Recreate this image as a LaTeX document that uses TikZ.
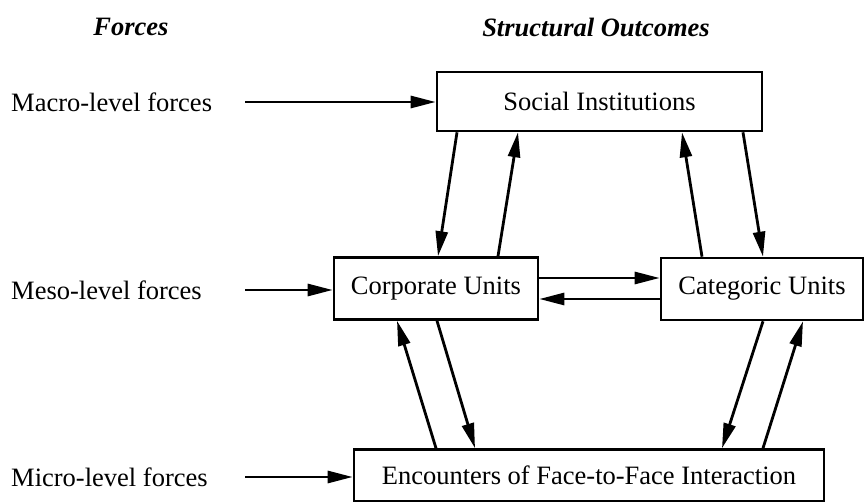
\documentclass[tikz,border=0pt]{standalone}
\usepackage{fontspec}
\setmainfont{Liberation Serif}
\usetikzlibrary{arrows.meta,calc}
\tikzset{
  box/.style={draw, line width=2.6pt, inner sep=0pt, font=\fontsize{26.5}{30}\selectfont},
  lbl/.style={inner sep=0pt, font=\fontsize{26.5}{30}\selectfont},
  hdr/.style={inner sep=0pt, font=\fontsize{26.5}{30}\selectfont\bfseries\itshape},
  arr/.style={line width=2.8pt, -{Triangle[length=25pt,width=12pt]}}
}
\begin{document}
\begin{tikzpicture}[x=1pt,y=-1pt]
\useasboundingbox (0,0) rectangle (865,502);
% headers
\node[hdr] (hforces) at (131,27) {Forces};
\node[hdr] (hstruct) at (596,27) {Structural Outcomes};
% boxes
\node[box, minimum width=325pt, minimum height=59pt] (soc) at (599.5,101.5) {Social Institutions};
\node[box, minimum width=204pt, minimum height=62pt] (corp) at (436,288.5) {Corporate Units};
\node[box, minimum width=202pt, minimum height=62pt] (cat) at (762,289) {Categoric Units};
\node[box, minimum width=470pt, minimum height=52pt] (enc) at (589,475.5) {Encounters of Face-to-Face Interaction};
% left labels
\node[lbl, anchor=west] (macro) at (11,102) {Macro-level forces};
\node[lbl, anchor=west] (meso) at (11,290) {Meso-level forces};
\node[lbl, anchor=west] (micro) at (11,477) {Micro-level forces};
\coordinate (s1) at (245,102);
\coordinate (s2) at (245,290);
\coordinate (s3) at (245,477);
\draw[arr] (s1) -- (s1 -| soc.west);
\draw[arr] (s2) -- (s2 -| corp.west);
\draw[arr] (s3) -- (s3 -| enc.west);
% social <-> corporate
\coordinate (a1) at (457,0); \coordinate (a2) at (438,0);
\coordinate (a3) at (498,0); \coordinate (a4) at (518,0);
\draw[arr] (a1 |- soc.south) -- (a2 |- corp.north);
\draw[arr] (a3 |- corp.north) -- (a4 |- soc.south);
% social <-> categoric
\coordinate (b1) at (702,0); \coordinate (b2) at (682,0);
\coordinate (b3) at (743,0); \coordinate (b4) at (763,0);
\draw[arr] (b1 |- cat.north) -- (b2 |- soc.south);
\draw[arr] (b3 |- soc.south) -- (b4 |- cat.north);
% corporate <-> categoric
\coordinate (h1) at (0,278); \coordinate (h2) at (0,299);
\draw[arr] (corp.east |- h1) -- (cat.west |- h1);
\draw[arr] (cat.west |- h2) -- (corp.east |- h2);
% corporate <-> encounters
\coordinate (c1) at (436,0); \coordinate (c2) at (397,0);
\coordinate (c3) at (437,0); \coordinate (c4) at (475,0);
\draw[arr] (c1 |- enc.north) -- (c2 |- corp.south);
\draw[arr] (c3 |- corp.south) -- (c4 |- enc.north);
% categoric <-> encounters
\coordinate (d1) at (763,0); \coordinate (d2) at (722,0);
\coordinate (d3) at (763,0); \coordinate (d4) at (803,0);
\draw[arr] (d1 |- cat.south) -- (d2 |- enc.north);
\draw[arr] (d3 |- enc.north) -- (d4 |- cat.south);
\end{tikzpicture}
\end{document}
